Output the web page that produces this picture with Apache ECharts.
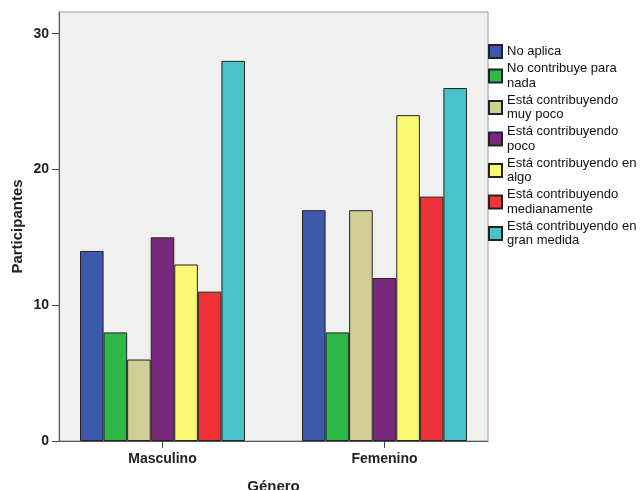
<!DOCTYPE html>
<html>
<head>
<meta charset="utf-8">
<script src="https://cdn.jsdelivr.net/npm/echarts@6/dist/echarts.min.js"></script>
<style>html,body{margin:0;padding:0;background:#fff}#c{width:644px;height:490px}</style>
</head>
<body>
<div id="c"></div>
<script>
const categories = ['Masculino', 'Femenino'];
const seriesNames = [
  'No aplica',
  'No contribuye para\nnada',
  'Está contribuyendo\nmuy poco',
  'Está contribuyendo\npoco',
  'Está contribuyendo en\nalgo',
  'Está contribuyendo\nmedianamente',
  'Está contribuyendo en\ngran medida'
];
const noAplica = [14, 17];
const noContribuye = [8, 8];
const muyPoco = [6, 17];
const poco = [15, 12];
const enAlgo = [13, 24];
const medianamente = [11, 18];
const granMedida = [28, 26];
const yTicks = [0, 10, 20, 30];

const values = [noAplica, noContribuye, muyPoco, poco, enAlgo, medianamente, granMedida];
const colors = ['#3e58ac', '#2eb848', '#d3ce97', '#782a7a', '#fbf873', '#f03239', '#48c4c8'];

const FONT = 'Liberation Sans, Arial, sans-serif';
const YMAX = 31.6;

const chart = echarts.init(document.getElementById('c'), null, {renderer: 'canvas'});
chart.setOption({
  animation: false,
  backgroundColor: '#ffffff',
  textStyle: {fontFamily: FONT},
  grid: [
    {left: 59, right: 156, top: 12, bottom: 49, show: true, backgroundColor: '#f0f0f0', borderColor: '#9a9a9a', borderWidth: 1, containLabel: false, outerBoundsMode: 'none'},
    {left: 51.5, right: 148.5, top: 12, bottom: 49, containLabel: false, outerBoundsMode: 'none'}
  ],
  xAxis: [
    {gridIndex: 0, type: 'category', data: categories, axisLine: {show: true, lineStyle: {color: '#555', width: 1}}, axisTick: {show: false}, axisLabel: {show: false}, splitLine: {show: false}},
    {gridIndex: 1, type: 'category', data: categories,
     axisLine: {show: false},
     axisTick: {show: true, alignWithLabel: true, length: 7, lineStyle: {color: '#444'}},
     axisLabel: {show: true, margin: 11, color: '#222', fontWeight: 'bold', fontSize: 14, fontFamily: FONT},
     name: 'Género', nameLocation: 'middle', nameGap: 38,
     nameTextStyle: {color: '#222', fontWeight: 'bold', fontSize: 15, fontFamily: FONT}}
  ],
  yAxis: [
    {gridIndex: 0, type: 'value', min: 0, max: YMAX, interval: 10,
     axisLine: {show: true, lineStyle: {color: '#555', width: 1}},
     axisTick: {show: true, length: 7, customValues: yTicks, lineStyle: {color: '#444'}},
     axisLabel: {show: true, margin: 10, customValues: yTicks, color: '#222', fontWeight: 'bold', fontSize: 14, fontFamily: FONT},
     splitLine: {show: false},
     name: 'Participantes', nameLocation: 'middle', nameGap: 34, nameMoveOverlap: false,
     nameTextStyle: {color: '#222', fontWeight: 'bold', fontSize: 15, fontFamily: FONT}},
    {gridIndex: 1, type: 'value', min: 0, max: YMAX, interval: 10, show: false, splitLine: {show: false}}
  ],
  legend: {
    orient: 'vertical', left: 488, top: 44, padding: 0,
    itemWidth: 13, itemHeight: 13, itemGap: 2.5,
    icon: 'rect',
    textStyle: {fontFamily: FONT, fontSize: 13, color: '#111', lineHeight: 14.5},
    data: seriesNames
  },
  series: seriesNames.map((n, i) => ({
    name: n, type: 'bar', xAxisIndex: 1, yAxisIndex: 1,
    data: values[i],
    barGap: '0%', barCategoryGap: '25.7%',
    itemStyle: {color: colors[i], borderColor: '#222', borderWidth: 1}
  }))
});
</script>
</body>
</html>
